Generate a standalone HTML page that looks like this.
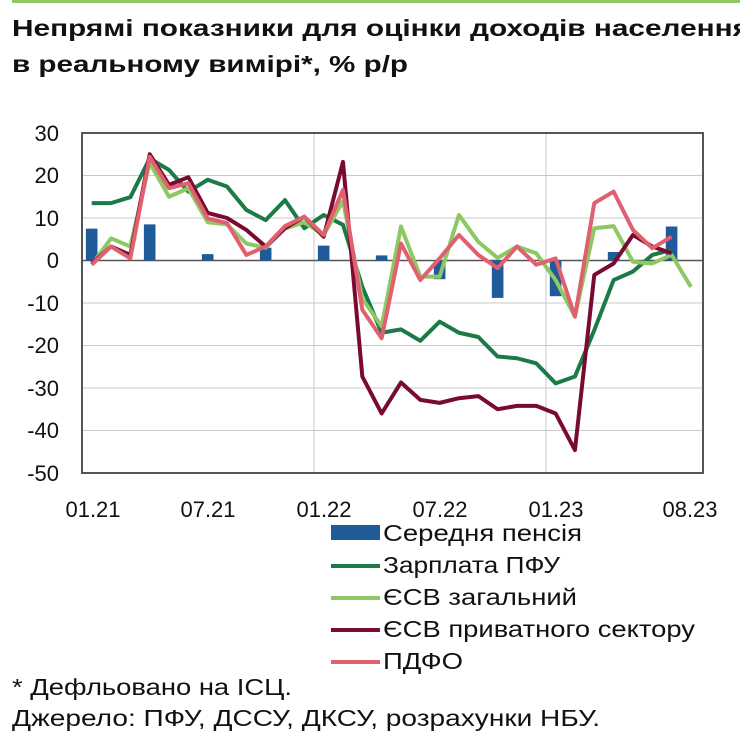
<!DOCTYPE html>
<html><head><meta charset="utf-8"><style>
body{margin:0;background:#fff;width:740px;height:740px;overflow:hidden;font-family:"Liberation Sans",sans-serif}
</style></head><body>
<svg width="740" height="740" xmlns="http://www.w3.org/2000/svg" font-family="Liberation Sans, sans-serif">
<rect x="12" y="0" width="728" height="3" fill="#8dc865"/>
<text x="12" y="36" font-size="23" font-weight="bold" fill="#111" textLength="738" lengthAdjust="spacingAndGlyphs">Непрямі показники для оцінки доходів населення</text>
<text x="12" y="72" font-size="23" font-weight="bold" fill="#111" textLength="396" lengthAdjust="spacingAndGlyphs">в реальному вимірі*, % р/р</text>
<g stroke="#c8c8c8" stroke-width="1">
<line x1="82" x2="703" y1="175.5" y2="175.5"/><line x1="82" x2="703" y1="218" y2="218"/>
<line x1="82" x2="703" y1="303" y2="303"/><line x1="82" x2="703" y1="345.5" y2="345.5"/>
<line x1="82" x2="703" y1="388" y2="388"/><line x1="82" x2="703" y1="430.5" y2="430.5"/>
<line x1="314" x2="314" y1="133" y2="473"/><line x1="546" x2="546" y1="133" y2="473"/>
</g>
<rect x="82" y="133" width="621" height="340" fill="none" stroke="#555" stroke-width="2"/>
<line x1="82" x2="703" y1="260.5" y2="260.5" stroke="#555" stroke-width="1.5"/>
<g font-size="22" fill="#111" text-anchor="end">
<text x="59" y="141">30</text><text x="59" y="183">20</text><text x="59" y="226">10</text><text x="59" y="268">0</text>
<text x="59" y="311">-10</text><text x="59" y="353">-20</text><text x="59" y="396">-30</text><text x="59" y="438">-40</text><text x="59" y="481">-50</text>
</g>
<g font-size="22" fill="#111" text-anchor="middle">
<text x="93" y="517">01.21</text><text x="208" y="517">07.21</text><text x="324" y="517">01.22</text>
<text x="440" y="517">07.22</text><text x="556" y="517">01.23</text><text x="690" y="517">08.23</text>
</g>
<g transform="translate(91.7,260.5) scale(19.33,-4.25)" fill="#1f5b99">
<rect x="-0.3" y="0" width="0.6" height="7.5"/><rect x="2.7" y="0" width="0.6" height="8.5"/>
<rect x="5.7" y="0" width="0.6" height="1.5"/><rect x="8.7" y="0" width="0.6" height="3"/>
<rect x="11.7" y="0" width="0.6" height="3.5"/><rect x="14.7" y="0" width="0.6" height="1.2"/>
<rect x="17.7" y="-4.4" width="0.6" height="4.4"/><rect x="20.7" y="-8.8" width="0.6" height="8.8"/>
<rect x="23.7" y="-8.4" width="0.6" height="8.4"/><rect x="26.7" y="0" width="0.6" height="2"/>
<rect x="29.7" y="0" width="0.6" height="8"/>
</g>
<g transform="translate(91.7,260.5) scale(19.33,-4.25)" fill="none" stroke-width="4" stroke-linejoin="round">
<polyline vector-effect="non-scaling-stroke" stroke="#1b7a45" points="0,13.5 1,13.5 2,14.9 3,24 4,21.3 5,16.2 6,19 7,17.4 8,11.9 9,9.5 10,14.2 11,7.6 12,10.7 13,8.4 14,-6.2 15,-17 16,-16.2 17,-18.9 18,-14.4 19,-17 20,-18 21,-22.6 22,-23 23,-24.2 24,-28.9 25,-27.3 26,-16.4 27,-4.6 28,-2.6 29,1.3 30,2.5"/>
<polyline vector-effect="non-scaling-stroke" stroke="#8dc865" points="0,-1 1,5.2 2,3.3 3,23 4,15 5,17 6,9 7,8.5 8,4 9,3 10,7.5 11,9 12,6 13,14 14,-9 15,-15.5 16,8 17,-3.8 18,-3.8 19,10.7 20,4.4 21,0.6 22,3.3 23,1.7 24,-4.6 25,-13.2 26,7.6 27,8.1 28,-0.3 29,-0.7 30,1.3 31,-6.2"/>
<polyline vector-effect="non-scaling-stroke" stroke="#7a0b30" points="0,-0.7 1,3.3 2,1.3 3,25 4,17.8 5,19.6 6,11.2 7,10 8,7.2 9,3.3 10,7.6 11,10.3 12,5.6 13,23.2 14,-27.3 15,-36 16,-28.7 17,-32.8 18,-33.5 19,-32.4 20,-31.9 21,-35 22,-34.2 23,-34.2 24,-36 25,-44.6 26,-3.4 27,-0.7 28,6 29,3.3 30,1.7"/>
<polyline vector-effect="non-scaling-stroke" stroke="#e0606f" points="0,-1 1,3.3 2,0.5 3,24.4 4,17 5,18.2 6,9.9 7,8.8 8,1.3 9,3.3 10,8.1 11,10.3 12,6 13,16.6 14,-11.6 15,-18.3 16,4 17,-4.6 18,0.5 19,6 20,1.3 21,-1.8 22,3.3 23,-1 24,0.5 25,-13.2 26,13.5 27,16.2 28,7.2 29,2.9 30,5.6"/>
</g>
<rect x="331" y="525" width="49" height="15" fill="#1f5b99"/>
<line x1="331" x2="380" y1="566" y2="566" stroke="#1b7a45" stroke-width="4"/>
<line x1="331" x2="380" y1="598" y2="598" stroke="#8dc865" stroke-width="4"/>
<line x1="331" x2="380" y1="630" y2="630" stroke="#7a0b30" stroke-width="4"/>
<line x1="331" x2="380" y1="662" y2="662" stroke="#e0606f" stroke-width="4"/>
<g font-size="23" fill="#111">
<text x="383" y="541" textLength="199" lengthAdjust="spacingAndGlyphs">Середня пенсія</text>
<text x="383" y="573" textLength="177" lengthAdjust="spacingAndGlyphs">Зарплата ПФУ</text>
<text x="383" y="605" textLength="194" lengthAdjust="spacingAndGlyphs">ЄСВ загальний</text>
<text x="383" y="637" textLength="312" lengthAdjust="spacingAndGlyphs">ЄСВ приватного сектору</text>
<text x="383" y="669" textLength="80" lengthAdjust="spacingAndGlyphs">ПДФО</text>
<text x="12" y="695" textLength="280" lengthAdjust="spacingAndGlyphs">* Дефльовано на ІСЦ.</text>
<text x="12" y="726" textLength="588" lengthAdjust="spacingAndGlyphs">Джерело: ПФУ, ДССУ, ДКСУ, розрахунки НБУ.</text>
</g>
</svg>
</body></html>
